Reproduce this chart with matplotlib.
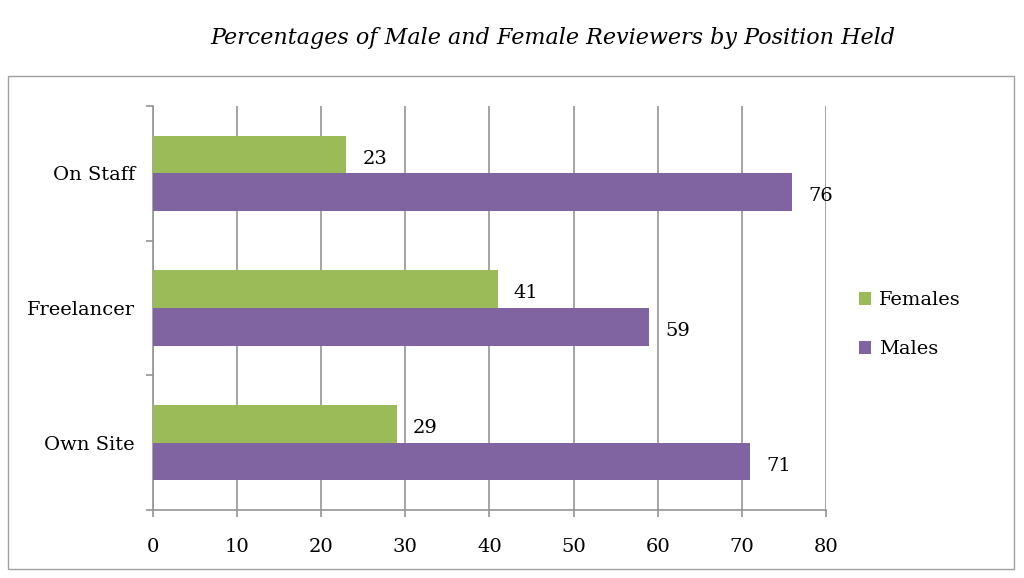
import matplotlib
matplotlib.use("Agg")
import matplotlib.pyplot as plt
from matplotlib.patches import Rectangle
import numpy as np

# data
categories = ["On Staff", "Freelancer", "Own Site"]
females = [23, 41, 29]
males = [76, 59, 71]
xticks = [0, 10, 20, 30, 40, 50, 60, 70, 80]

green = "#9BBB59"
purple = "#8064A2"
grey = "#959595"

plt.rcParams['font.family'] = ['DejaVu Serif']

fig = plt.figure(figsize=(10.24, 5.78), dpi=100)
ax = fig.add_axes([0.1494, 0.1176, 0.6572, 0.699])

# outer chart border
fig.patches.append(Rectangle((8/1024, 1 - 569/578), 1006/1024, 493/578,
                             transform=fig.transFigure, fill=False,
                             edgecolor="#a0a0a0", linewidth=1.0))

y = np.arange(len(categories))
h = 0.28
bf = ax.barh(y - h/2, females, height=h, color=green, label="Females", zorder=3)
bm = ax.barh(y + h/2, males, height=h, color=purple, label="Males", zorder=3)

for bars, vals in [(bf, females), (bm, males)]:
    for b, v in zip(bars, vals):
        ax.text(v + 1.9, b.get_y() + b.get_height()/2 + 0.03, str(v),
                va="center", ha="left", fontsize=14)

ax.set_xlim(0, 80)
ax.set_ylim(2.5, -0.5)
ax.set_xticks(xticks)
ax.set_yticks(y)
ax.set_yticklabels(categories)
ax.set_yticks([-0.5, 0.5, 1.5, 2.5], minor=True)
ax.tick_params(axis="y", which="major", length=0, pad=13, labelsize=14)
ax.tick_params(axis="y", which="minor", length=5, color=grey, width=1.2)
ax.tick_params(axis="x", length=5, color=grey, width=1.2, labelsize=14, pad=15)

ax.grid(axis="x", color=grey, linewidth=1.2, zorder=0)
for s in ["top", "right"]:
    ax.spines[s].set_visible(False)
for s in ["left", "bottom"]:
    ax.spines[s].set_color(grey)
    ax.spines[s].set_linewidth(1.2)

fig.text(0.54, 0.935, "Percentages of Male and Female Reviewers by Position Held",
         ha="center", va="center", fontsize=16, style="italic")

fig.legend(handles=[bf, bm], labels=["Females", "Males"], loc="center left",
           bbox_to_anchor=(0.822, 0.438), frameon=False, fontsize=14,
           handlelength=0.6, handleheight=0.6, labelspacing=1.6, handletextpad=0.4)

fig.savefig("out.png", dpi=100)
